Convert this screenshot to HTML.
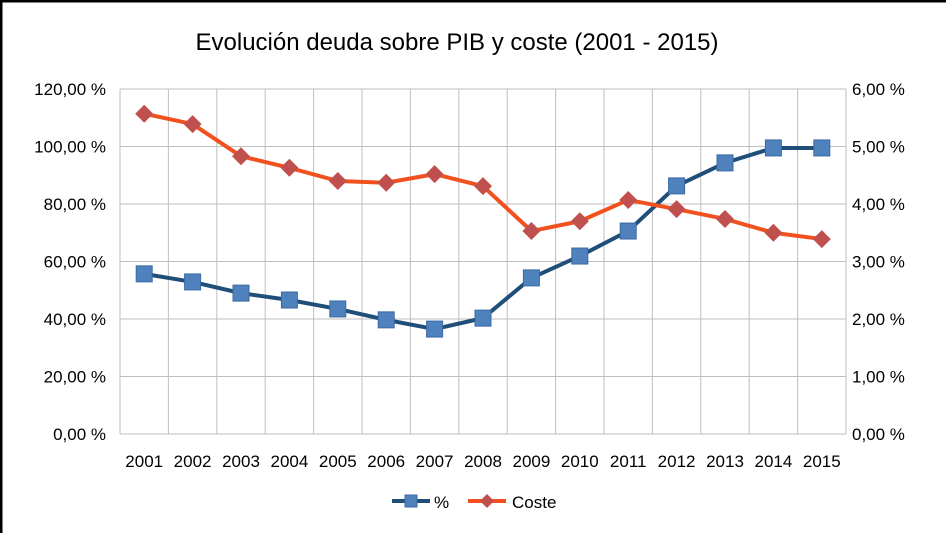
<!DOCTYPE html>
<html><head><meta charset="utf-8"><style>
body{margin:0;background:#fff}
svg{display:block;font-family:"Liberation Sans",Calibri,sans-serif}
</style></head><body>
<svg width="946" height="533" viewBox="0 0 946 533" xmlns="http://www.w3.org/2000/svg">
<rect x="0" y="0" width="946" height="533" fill="#fff"/>
<line x1="0" y1="1" x2="946" y2="1" stroke="#000" stroke-width="3"/>
<line x1="1" y1="0" x2="1" y2="533" stroke="#000" stroke-width="3"/>
<text x="457" y="50" text-anchor="middle" font-size="24" fill="#000">Evolución deuda sobre PIB y coste (2001 - 2015)</text>
<g id="grid"></g><g id="axes"></g><g id="series"></g>
<g>
<g><line x1="392" y1="501" x2="430" y2="501" stroke="#1F4E79" stroke-width="4"/><rect x="405" y="495" width="12" height="12" fill="#4F81BD" stroke="#3A6AA5"/><text x="434" y="508" font-size="17">%</text></g>
<g><line x1="468" y1="501" x2="506" y2="501" stroke="#F0511E" stroke-width="4"/><path d="M487 494 L494 501 L487 508 L480 501 Z" fill="#C0504D"/><text x="512" y="508" font-size="17">Coste</text></g>
</g>
</svg>
<script>
const years=["2001","2002","2003","2004","2005","2006","2007","2008","2009","2010","2011","2012","2013","2014","2015"];
const debtPct=[55.7,52.9,49.0,46.6,43.5,39.7,36.5,40.3,54.3,61.9,70.6,86.3,94.3,99.5,99.5];
const costPct=[5.57,5.39,4.83,4.63,4.40,4.37,4.52,4.31,3.53,3.70,4.07,3.91,3.74,3.50,3.39];
const leftTicks=[0,20,40,60,80,100,120];
const rightTicks=[0,1,2,3,4,5,6];
const NS="http://www.w3.org/2000/svg";
const L=120,R=846,T=89,B=434;
const step=(R-L)/years.length;
const xS=i=>L+step*(i+0.5);
const yL=v=>B-(v/120)*(B-T);
const yR=v=>B-(v/6)*(B-T);
function mk(t,a,p){const e=document.createElementNS(NS,t);for(const k in a)e.setAttribute(k,a[k]);p.appendChild(e);return e;}
const g=document.getElementById('grid'),ax=document.getElementById('axes'),s=document.getElementById('series');
const fmt=v=>v.toFixed(2).replace('.',',')+' %';
leftTicks.forEach(v=>{const l=mk('line',{x1:L,x2:R,y1:yL(v),y2:yL(v),stroke:'#BFBFBF','stroke-width':1},g);


const t=mk('text',{x:L-14,y:yL(v)+6,'text-anchor':'end','font-size':17},ax);t.textContent=fmt(v);

});
rightTicks.forEach(v=>{const t=mk('text',{x:R+6,y:yR(v)+6,'font-size':17},ax);t.textContent=fmt(v);

});
for(let i=0;i<=years.length;i++){const l=mk('line',{x1:L+step*i,x2:L+step*i,y1:T,y2:B,stroke:'#BFBFBF','stroke-width':1},g);

}
years.forEach((y,i)=>{const t=mk('text',{x:xS(i),y:467,'text-anchor':'middle','font-size':17},ax);t.textContent=y;

});
const pl1=mk('polyline',{points:debtPct.map((v,i)=>xS(i)+','+yL(v)).join(' '),fill:'none',stroke:'#1F4E79','stroke-width':4,'stroke-linejoin':'round'},s);


const pl2=mk('polyline',{points:costPct.map((v,i)=>xS(i)+','+yR(v)).join(' '),fill:'none',stroke:'#F0511E','stroke-width':4,'stroke-linejoin':'round'},s);


debtPct.forEach((v,i)=>{const r=mk('rect',{x:xS(i)-8,y:yL(v)-8,width:16,height:16,fill:'#4F81BD',stroke:'#3A6AA5'},s);

});
costPct.forEach((v,i)=>{const x=xS(i),y=yR(v);const p=mk('path',{d:`M${x} ${y-9} L${x+9} ${y} L${x} ${y+9} L${x-9} ${y} Z`,fill:'#C0504D'},s);

});
</script>
</body></html>
